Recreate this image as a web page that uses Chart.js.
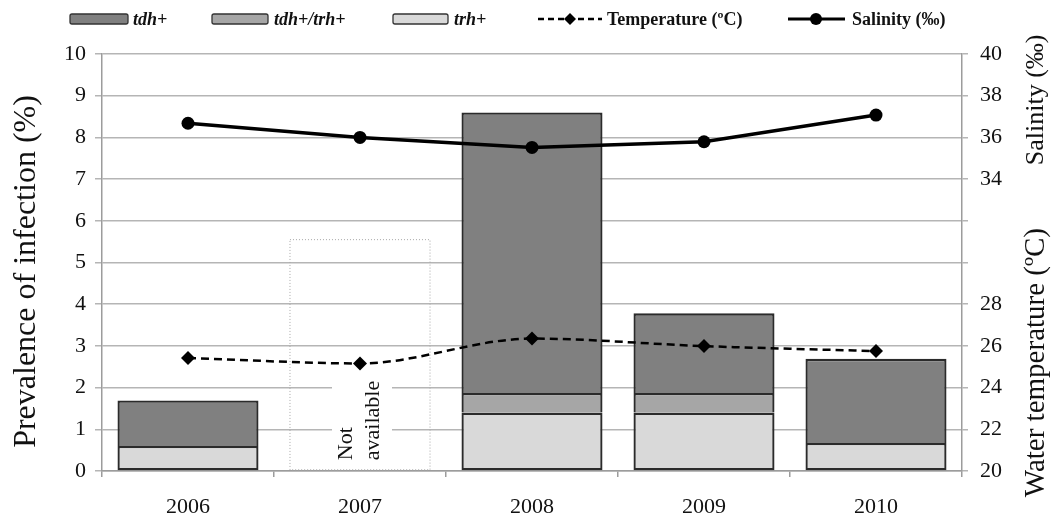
<!DOCTYPE html>
<html>
<head>
<meta charset="utf-8">
<style>
  html, body { margin: 0; padding: 0; background: #ffffff; }
  #wrap { width: 1055px; height: 524px; }
</style>
<script src="https://cdn.jsdelivr.net/npm/chart.js@4/dist/chart.umd.min.js"></script>
</head>
<body>
<div id="wrap"><canvas id="c" width="1055" height="524"></canvas></div>
<script>
// Sampling years
const years = ['2006', '2007', '2008', '2009', '2010'];

// Prevalence of infection (%) by genotype, stacked bottom to top
const trhOnly = [0.6, null, 1.4, 1.4, 0.67];
const tdhTrh = [null, null, 0.47, 0.47, null];
const tdhOnly = [1.09, null, 6.73, 1.91, 2.02];

// 2007: no prevalence data, drawn as an empty placeholder column
const notAvailable = [null, 5.56, null, null, null];

// Environmental measurements (right axis)
const temperature = [25.42, 25.16, 26.35, 25.99, 25.75];
const salinity = [36.68, 36.0, 35.52, 35.79, 37.07];

// Labelled ticks on the shared right axis
const temperatureTicks = [20, 22, 24, 26, 28];
const salinityTicks = [34, 36, 38, 40];

const SERIF = '"Liberation Serif", "Times New Roman", serif';
const GRID = '#b5b5b5';
const AXIS = '#9c9c9c';

Chart.defaults.font.family = SERIF;
Chart.defaults.color = '#111';

// Dotted outline and rotated caption for the missing year
const placeholderPlugin = {
  id: 'placeholder',
  beforeDatasetsDraw(chart) {
    const idx = chart.data.datasets.findIndex(d => d.id === 'na');
    const meta = chart.getDatasetMeta(idx);
    const ctx = chart.ctx;
    meta.data.forEach((el, i) => {
      if (notAvailable[i] == null) return;
      const p = el.getProps(['x', 'y', 'base', 'width'], true);
      const l = p.x - p.width / 2, r = p.x + p.width / 2;
      ctx.save();
      ctx.strokeStyle = '#a8a8a8';
      ctx.lineWidth = 1;
      ctx.setLineDash([1, 2]);
      ctx.strokeRect(l + 0.5, p.y + 0.5, r - l - 1, p.base - p.y - 1);
      ctx.setLineDash([]);
      // white backing behind the caption
      ctx.fillStyle = '#ffffff';
      ctx.fillRect(p.x - 28, p.base - 96, 60, 94);
      ctx.translate(p.x, p.base - 10);
      ctx.rotate(-Math.PI / 2);
      ctx.fillStyle = '#111';
      ctx.font = '22px ' + SERIF;
      ctx.textAlign = 'left';
      ctx.textBaseline = 'middle';
      ctx.fillText('Not', 0, -14);
      ctx.fillText('available', 0, 13);
      ctx.restore();
    });
  }
};

// Rotated axis titles, including the split right-hand titles
const titlesPlugin = {
  id: 'titles',
  afterDraw(chart) {
    const ctx = chart.ctx;
    const y = chart.scales.y, y2 = chart.scales.y2;
    const draw = (text, x, yy, size) => {
      ctx.save();
      ctx.translate(x, yy);
      ctx.rotate(-Math.PI / 2);
      ctx.font = size + 'px ' + SERIF;
      ctx.fillStyle = '#111';
      ctx.textAlign = 'center';
      ctx.textBaseline = 'middle';
      ctx.fillText(text, 0, 0);
      ctx.restore();
    };
    draw('Prevalence of infection (%)', 27, (y.top + y.bottom) / 2 + 9, 32);
    draw('Salinity (‰)', 1036, y2.getPixelForValue(37.8), 26);
    draw('Water temperature (ºC)', 1036, y2.getPixelForValue(25.2), 29);
  }
};

// Legend row across the top
const legendPlugin = {
  id: 'topLegend',
  afterDraw(chart) {
    const ctx = chart.ctx;
    const ds = chart.data.datasets;
    const cy = 19;
    const box = (x0, x1, fill) => {
      ctx.save();
      ctx.fillStyle = fill;
      ctx.strokeStyle = '#333';
      ctx.lineWidth = 1.3;
      ctx.beginPath();
      ctx.roundRect(x0, cy - 5, x1 - x0, 10, 2);
      ctx.fill();
      ctx.stroke();
      ctx.restore();
    };
    const label = (text, x, italic) => {
      ctx.save();
      ctx.font = (italic ? 'italic ' : '') + 'bold 18px ' + SERIF;
      ctx.fillStyle = '#111';
      ctx.textAlign = 'left';
      ctx.textBaseline = 'middle';
      ctx.fillText(text, x, cy + 1);
      ctx.restore();
    };
    const find = id => ds.find(d => d.id === id);
    box(70, 128, find('tdh').backgroundColor);
    label(find('tdh').label, 133, true);
    box(212, 268, find('both').backgroundColor);
    label(find('both').label, 274, true);
    box(393, 448, find('trh').backgroundColor);
    label(find('trh').label, 454, true);

    // temperature: dashed line with diamond
    ctx.save();
    ctx.strokeStyle = '#000';
    ctx.lineWidth = 2.5;
    ctx.setLineDash([6, 4]);
    ctx.beginPath(); ctx.moveTo(538, cy); ctx.lineTo(602, cy); ctx.stroke();
    ctx.setLineDash([]);
    ctx.fillStyle = '#000';
    ctx.beginPath();
    ctx.moveTo(570, cy - 6); ctx.lineTo(576, cy); ctx.lineTo(570, cy + 6); ctx.lineTo(564, cy);
    ctx.closePath(); ctx.fill();
    ctx.restore();
    label(find('temp').label, 607, false);

    // salinity: solid line with circle
    ctx.save();
    ctx.strokeStyle = '#000';
    ctx.lineWidth = 3;
    ctx.beginPath(); ctx.moveTo(788, cy); ctx.lineTo(845, cy); ctx.stroke();
    ctx.fillStyle = '#000';
    ctx.beginPath(); ctx.arc(816, cy, 6, 0, Math.PI * 2); ctx.fill();
    ctx.restore();
    label(find('sal').label, 852, false);
  }
};

// Upper segments skip their bottom edge so shared edges stay single-width
const barStyle = {
  borderColor: '#2b2b2b',
  borderWidth: 2.3,
  borderSkipped: 'bottom',
  categoryPercentage: 1.0,
  barPercentage: 0.82,
  yAxisID: 'y',
  order: 2
};

new Chart(document.getElementById('c'), {
  type: 'bar',
  data: {
    labels: years,
    datasets: [
      Object.assign({ id: 'trh', label: 'trh+', data: trhOnly, backgroundColor: '#d9d9d9' }, barStyle,
        { borderSkipped: false }),
      Object.assign({ id: 'both', label: 'tdh+/trh+', data: tdhTrh, backgroundColor: '#a6a6a6' }, barStyle),
      Object.assign({ id: 'tdh', label: 'tdh+', data: tdhOnly, backgroundColor: '#808080' }, barStyle),
      Object.assign({ id: 'na', label: 'Not available', data: notAvailable }, barStyle,
        { backgroundColor: 'rgba(0,0,0,0)', borderWidth: 0 }),
      {
        id: 'temp', type: 'line', label: 'Temperature (ºC)', data: temperature, yAxisID: 'y2',
        borderColor: '#000', borderWidth: 2.5, borderDash: [8, 5], cubicInterpolationMode: 'monotone',
        pointStyle: 'rectRot', pointRadius: 7, pointBackgroundColor: '#000',
        pointBorderColor: '#000', pointBorderWidth: 0, order: 0, clip: false
      },
      {
        id: 'sal', type: 'line', label: 'Salinity (‰)', data: salinity, yAxisID: 'y2',
        borderColor: '#000', borderWidth: 3.5, tension: 0,
        pointStyle: 'circle', pointRadius: 6.5, pointBackgroundColor: '#000',
        pointBorderColor: '#000', pointBorderWidth: 0, order: 0, clip: false
      }
    ]
  },
  options: {
    responsive: false,
    devicePixelRatio: 1,
    animation: false,
    layout: { padding: { top: 54, left: 0, right: 0, bottom: 0 } },
    plugins: {
      legend: { display: false },
      tooltip: { enabled: false }
    },
    scales: {
      x: {
        stacked: true,
        grid: { offset: true, drawOnChartArea: false, drawTicks: true, tickLength: 6, color: AXIS, lineWidth: 1.5 },
        border: { color: AXIS, width: 1.5 },
        ticks: { font: { size: 22 }, color: '#111', padding: 17, maxRotation: 0 },
        afterFit(s) { s.height = 53; }
      },
      y: {
        stacked: true,
        min: 0, max: 10,
        grid: { color: GRID, lineWidth: 1.5, tickLength: 7 },
        border: { color: AXIS, width: 1.5 },
        ticks: { stepSize: 1, font: { size: 22 }, color: '#111', padding: 9 },
        afterFit(s) { s.width = 102; }
      },
      y2: {
        position: 'right',
        min: 20, max: 40,
        grid: { drawOnChartArea: false, color: GRID, lineWidth: 1.5, tickLength: 6 },
        border: { color: AXIS, width: 1.5 },
        ticks: {
          stepSize: 2, font: { size: 22 }, color: '#111', padding: 12,
          callback: v => (temperatureTicks.includes(v) || salinityTicks.includes(v)) ? String(v) : ''
        },
        afterFit(s) { s.width = 93; }
      }
    }
  },
  plugins: [placeholderPlugin, titlesPlugin, legendPlugin]
});
</script>
</body>
</html>
